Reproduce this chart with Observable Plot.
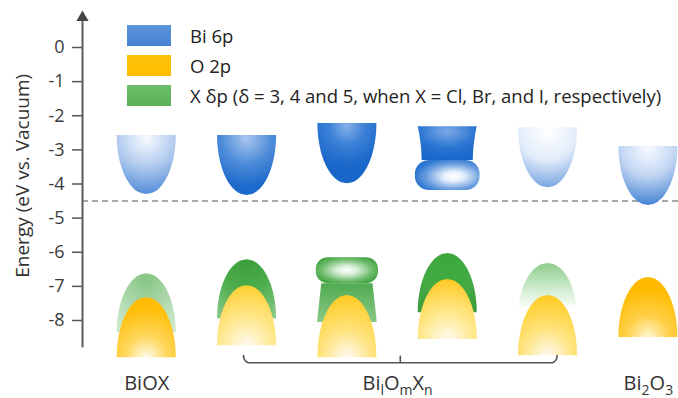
<!DOCTYPE html>
<html>
<head>
<meta charset="utf-8">
<script src="https://cdn.jsdelivr.net/npm/d3@7"></script>
<script src="https://cdn.jsdelivr.net/npm/@observablehq/plot@0.6"></script>
<style>
  body { margin: 0; background: #fff; font-family: "Open Sans", sans-serif; }
  #wrap { position: relative; width: 678px; height: 398px; overflow: hidden; }
  #legend { position: absolute; left: 127px; top: 25px; }
  .row { display: flex; align-items: center; height: 21px; margin-bottom: 9px; }
  .sw { width: 44px; height: 21px; margin-right: 19px; flex: none; }
  .lab { font-size: 18.5px; color: #222; white-space: nowrap; line-height: 21px; }
</style>
</head>
<body>
<div id="wrap"><div id="chart"></div><div id="legend"></div></div>
<script>
// ---------------- data ----------------
const columns   = ["BiOX", "BilOmXn (1)", "BilOmXn (2)", "BilOmXn (3)", "BilOmXn (4)", "Bi2O3"];
const colPos    = [1, 2, 3, 4, 5, 6];
// Bi 6p (conduction band) top / bottom, eV vs vacuum
const bi6pTop    = [-2.58, -2.58, -2.23, -2.32, -2.35, -2.90];
const bi6pBottom = [-4.31, -4.34, -3.99, -4.19, -4.11, -4.63];
const bi6pSplit  = [null, null, null, -3.31, null, null];
// X δp band
const xTop    = [-6.63, -6.22, -6.16, -6.04, -6.33, null];
const xBottom = [-8.36, -7.95, -8.06, -7.77, -7.92, null];
const xSplit  = [null, null, -6.92, null, null, null];
// O 2p band
const o2pTop    = [-7.33, -6.98, -7.27, -6.80, -7.27, -6.74];
const o2pBottom = [-9.09, -8.74, -9.09, -8.56, -9.03, -8.50];
const fermiLevel = -4.5;
const yTicks = [0, -1, -2, -3, -4, -5, -6, -7, -8];
const yTitle = "Energy (eV vs. Vacuum)";
const legendLabels = ["Bi 6p", "O 2p", "X δp (δ = 3, 4 and 5, when X = Cl, Br, and I, respectively)"];
const groupLabels = ["BiOX", "BilOmXn", "Bi2O3"];
const groupPos = [1, 3.5, 6];
const braceSpan = [2, 5];

// ---------------- geometry helpers ----------------
const X0 = 0.36, X1 = 6.3;
const HW = 0.294;     // half width of a band (x units)
const N = 60;
function bowl(c, top, bot, hw = HW) {
  const p = [];
  for (let i = 0; i <= N; i++) {
    const d = i / N, y = bot + d * (top - bot);
    const w = hw * Math.sqrt(Math.max(0, 1 - (1 - d) ** 2));
    p.push({y, x1: c - w, x2: c + w});
  }
  return p;
}
function dome(c, top, bot, hw = HW) {
  const p = [];
  for (let i = 0; i <= N; i++) {
    const d = i / N, y = top - d * (top - bot);
    const w = hw * Math.sqrt(Math.max(0, 1 - (1 - d) ** 2));
    p.push({y, x1: c - w, x2: c + w});
  }
  return p;
}
function pill(c, top, bot, hw, rx, ry) {
  const p = [];
  for (let i = 0; i <= N; i++) {
    const y = bot + (i / N) * (top - bot);
    const dB = y - bot, dT = top - y;
    let w = hw;
    if (dB < ry) w = hw - rx + rx * Math.sqrt(Math.max(0, 1 - ((ry - dB) / ry) ** 2));
    else if (dT < ry) w = hw - rx + rx * Math.sqrt(Math.max(0, 1 - ((ry - dT) / ry) ** 2));
    p.push({y, x1: c - w, x2: c + w});
  }
  return p;
}
function flare(c, top, bot, hwTop, hwBot, k) {
  const p = [];
  for (let i = 0; i <= N; i++) {
    const d = i / N, y = bot + d * (top - bot);
    const w = hwBot + (hwTop - hwBot) * d ** k;
    p.push({y, x1: c - w, x2: c + w});
  }
  return p;
}

// ---------------- shapes ----------------
const shapes = [];
colPos.forEach((c, i) => {
  if (bi6pSplit[i] == null) shapes.push({id: "b" + i, pts: bowl(c, bi6pTop[i], bi6pBottom[i])});
  else {
    shapes.push({id: "b" + i + "cup", pts: flare(c, bi6pTop[i], bi6pSplit[i], HW, 0.255, 1.8)});
    shapes.push({id: "b" + i + "pill", pts: pill(c, bi6pSplit[i], bi6pBottom[i], 0.322, 0.14, 0.40)});
  }
});
colPos.forEach((c, i) => {
  if (xTop[i] == null) return;
  if (xSplit[i] == null) shapes.push({id: "g" + i, pts: dome(c, xTop[i], xBottom[i])});
  else {
    shapes.push({id: "g" + i + "trap", pts: flare(c, xSplit[i], xBottom[i], 0.255, 0.298, 1)});
    shapes.push({id: "g" + i + "pill", pts: pill(c, xTop[i], xSplit[i], 0.31, 0.12, 0.34)});
  }
});
colPos.forEach((c, i) => shapes.push({id: "o" + i, pts: dome(c, o2pTop[i], o2pBottom[i])}));

// brace (ends hook up, small notch at the middle)
function bracePts(a, b) {
  const yL = -9.24, yH = -9.03, rx = 0.06, p = [];
  const m = (a + b) / 2;
  for (let t = 0; t <= 10; t++) { const th = Math.PI / 2 * t / 10; p.push({x: a + rx - rx * Math.cos(th), y: yL + (yH - yL) * (1 - Math.sin(th))}); }
  p.push({x: m, y: yL}); p.push({x: m, y: yH - 0.02}); p.push({x: m, y: yL});
  for (let t = 0; t <= 10; t++) { const th = Math.PI / 2 * t / 10; p.push({x: b - rx + rx * Math.sin(th), y: yL + (yH - yL) * (1 - Math.cos(th))}); }
  return p;
}
const brace = bracePts(braceSpan[0] - 0.035, braceSpan[1] + 0.09);

const marks = [
  Plot.ruleY([fermiLevel], {stroke: "#8a8a8a", strokeWidth: 1.6, strokeDasharray: "6,4"}),
  ...shapes.map(s => Plot.areaX(s.pts, {y: "y", x1: "x1", x2: "x2", fill: `url(#${s.id})`})),
  Plot.ruleX([X0], {y1: -8.8, y2: 0.85, stroke: "#5a5a5a", strokeWidth: 2}),
  Plot.dot([X0], {x: d => d, y: () => 0.88, symbol: "triangle", r: 4.5, fill: "#444", stroke: "none"}),
  Plot.axisY(yTicks, {anchor: "left", tickSize: 10, tickPadding: 8, tickFormat: d => String(d),
    stroke: "#555", strokeWidth: 1.5, fill: "#3a3a3a", fontSize: 18, label: null}),
  Plot.text([yTitle], {frameAnchor: "left", y: () => -3.76, dx: -60, rotate: -90, textAnchor: "middle",
    lineAnchor: "middle", fontSize: 19, fill: "#333"}),
  Plot.line(brace, {x: "x", y: "y", stroke: "#555", strokeWidth: 1.6, curve: "linear"}),
  Plot.text(groupLabels, {x: (d, i) => groupPos[i], frameAnchor: "bottom", lineAnchor: "bottom", dy: -9, fontSize: 20, fill: "#333"})
];

const svg = Plot.plot({
  width: 678, height: 398,
  marginLeft: 82, marginRight: 0, marginTop: 0, marginBottom: 0,
  style: {fontFamily: "Open Sans, sans-serif", background: "#fff", overflow: "visible"},
  x: {domain: [X0, X1], axis: null},
  y: {domain: [-8, 0], range: [320, 47], axis: null},
  marks
});
document.getElementById("chart").appendChild(svg);

// ---------------- gradients ----------------
const defs = d3.select(svg).insert("defs", ":first-child");
function grad(id, type, attrs, stops) {
  const g = defs.append(type === "r" ? "radialGradient" : "linearGradient").attr("id", id);
  Object.entries(attrs).forEach(([k, v]) => g.attr(k, v));
  stops.forEach(([o, c]) => g.append("stop").attr("offset", o).attr("stop-color", c));
}
// Bi 6p bowls
grad("b0", "r", {cx: 0.5, cy: 0.05, r: 1.0}, [[0, "#f7faff"], [0.45, "#b7cff0"], [1, "#4a86d6"]]);
grad("b1", "r", {cx: 0.5, cy: 0.05, r: 0.95}, [[0, "#a9c6ef"], [0.45, "#4e8cd9"], [0.85, "#1b6acb"]]);
grad("b2", "r", {cx: 0.5, cy: 0.05, r: 0.9}, [[0, "#86b0e9"], [0.35, "#3a80d6"], [0.75, "#1967c9"]]);
grad("b3cup", "r", {cx: 0.5, cy: 0.15, r: 0.8}, [[0, "#7eaae6"], [0.6, "#2a75d2"], [1, "#1a69ca"]]);
grad("b3pill", "r", {cx: 0.6, cy: 0.55, r: 0.6}, [[0, "#ffffff"], [0.25, "#e9f1fc"], [0.7, "#6c9fe0"], [1, "#2e77d1"]]);
grad("b4", "r", {cx: 0.5, cy: 0.05, r: 1.0}, [[0, "#ffffff"], [0.5, "#e2ecfa"], [1, "#6e9edd"]]);
grad("b5", "r", {cx: 0.5, cy: 0.05, r: 1.0}, [[0, "#f5f9ff"], [0.45, "#c3d7f3"], [1, "#3b7cd2"]]);
// X δp
grad("g0", "r", {cx: 0.5, cy: 0.1, r: 0.95}, [[0, "#86c584"], [0.6, "#b5dcb3"], [1, "#cfe8cd"]]);
grad("g1", "r", {cx: 0.5, cy: 0.05, r: 1.0}, [[0, "#3b9e3b"], [0.5, "#4fae4f"], [1, "#86c784"]]);
grad("g2trap", "l", {x1: 0, y1: 0, x2: 0, y2: 1}, [[0, "#4fab4f"], [1, "#8bc889"]]);
grad("g2pill", "r", {cx: 0.5, cy: 0.5, r: 0.55}, [[0, "#ffffff"], [0.3, "#d8eed7"], [0.75, "#6fbc6d"], [1, "#47a647"]]);
grad("g3", "r", {cx: 0.5, cy: 0.05, r: 1.0}, [[0, "#3ca83c"], [0.6, "#44aa44"], [1, "#3c9e3c"]]);
grad("g4", "l", {x1: 0, y1: 0, x2: 0, y2: 1}, [[0, "#8fcd8d"], [0.55, "#d9f0d8"], [0.85, "#ffffff"]]);
// O 2p
grad("o0", "r", {cx: 0.5, cy: 1.0, r: 1.0}, [[0, "#fffbea"], [0.35, "#ffd75c"], [0.8, "#ffbf0a"], [1, "#ffbb00"]]);
grad("o1", "r", {cx: 0.5, cy: 1.0, r: 1.0}, [[0, "#fffaf0"], [0.45, "#ffe88f"], [1, "#ffd033"]]);
grad("o2", "r", {cx: 0.5, cy: 1.0, r: 1.0}, [[0, "#fffaf0"], [0.45, "#ffe27a"], [1, "#ffcb22"]]);
grad("o3", "r", {cx: 0.5, cy: 1.0, r: 1.0}, [[0, "#fffcf0"], [0.45, "#ffe88c"], [1, "#ffc922"]]);
grad("o4", "r", {cx: 0.5, cy: 1.0, r: 1.0}, [[0, "#fffaf0"], [0.45, "#ffe27a"], [1, "#ffcb22"]]);
grad("o5", "r", {cx: 0.5, cy: 1.0, r: 1.0}, [[0, "#fff6d6"], [0.35, "#ffd04a"], [0.8, "#ffbb00"], [1, "#ffb800"]]);

// ---------------- subscripts in group labels ----------------
const richLabels = {
  "BilOmXn": [["Bi", 0], ["l", 1], ["O", 0], ["m", 1], ["X", 0], ["n", 1]],
  "Bi2O3": [["Bi", 0], ["2", 1], ["O", 0], ["3", 1]]
};
d3.select(svg).selectAll("text").each(function () {
  const parts = richLabels[this.textContent];
  if (!parts) return;
  const t = d3.select(this).text(null);
  let sub = false;
  parts.forEach(([s, isSub]) => {
    const ts = t.append("tspan").text(s);
    if (isSub && !sub) { ts.attr("dy", "5px").attr("font-size", "14px"); sub = true; }
    else if (isSub) { ts.attr("font-size", "14px"); }
    else if (!isSub && sub) { ts.attr("dy", "-5px"); sub = false; }
  });
});

// ---------------- legend ----------------
const swatchFills = [
  "linear-gradient(180deg, #5b93db 0%, #4583d4 100%)",
  "linear-gradient(180deg, #ffc20a 0%, #ffbe00 100%)",
  "linear-gradient(180deg, #6dbd6a 0%, #5ab258 100%)"
];
const lg = d3.select("#legend");
legendLabels.forEach((l, i) => {
  const r = lg.append("div").attr("class", "row");
  r.append("div").attr("class", "sw").style("background", swatchFills[i]);
  r.append("div").attr("class", "lab").text(l);
});
</script>
</body>
</html>
